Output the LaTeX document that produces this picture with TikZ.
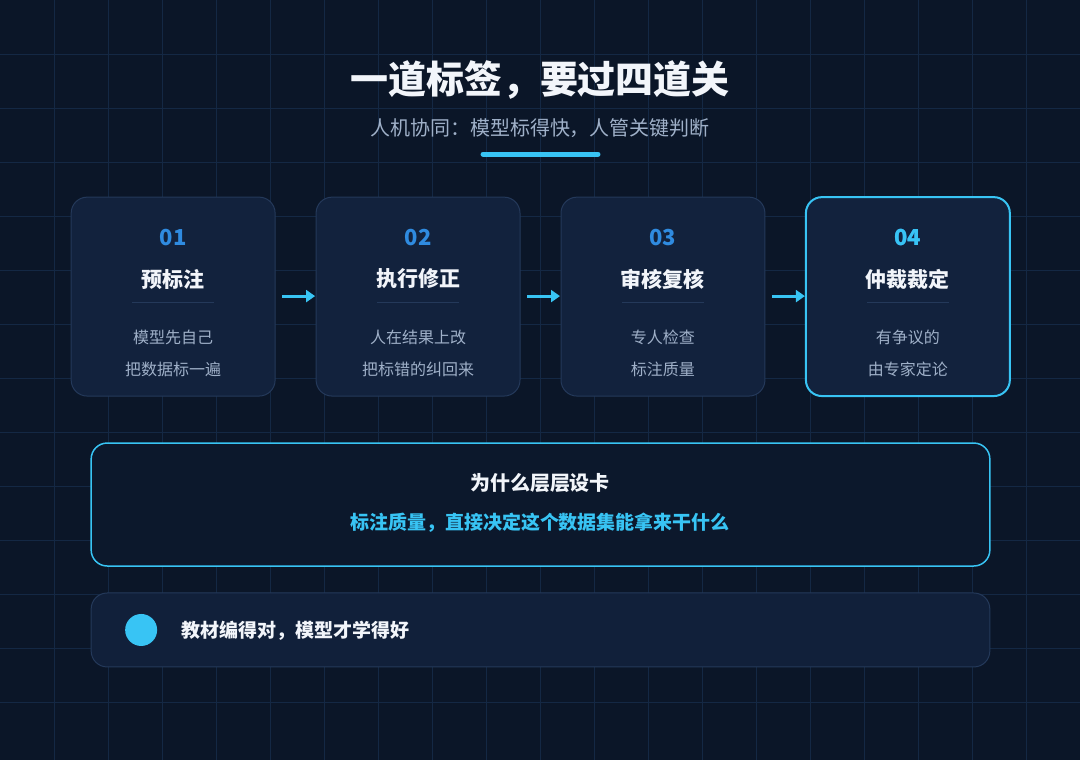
\documentclass[tikz,border=0pt]{standalone}
\usepackage{fontspec}
\setmainfont{Noto Sans CJK SC}
\usetikzlibrary{arrows.meta}
\definecolor{bg}{HTML}{0B1628}
\definecolor{gridc}{HTML}{142844}
\definecolor{cardf}{HTML}{12223D}
\definecolor{cardb}{HTML}{24395A}
\definecolor{cyan}{HTML}{38C4F4}
\definecolor{numc}{HTML}{2F8BE0}
\definecolor{subc}{HTML}{9FB0C8}
\definecolor{txtc}{HTML}{F2F5FA}
\begin{document}
\begin{tikzpicture}[x=1pt,y=-1pt]
\tikzset{
	card/.style={draw=cardb, fill=cardf, rounded corners=16pt, line width=1pt},
	num/.style={font=\fontsize{22}{24}\selectfont\bfseries, text=numc},
	ttl/.style={font=\fontsize{21}{24}\selectfont\bfseries, text=txtc},
	desc/.style={font=\fontsize{16}{18}\selectfont, text=subc},
	flow/.style={-{Triangle[length=9pt,width=12pt]}, draw=cyan, line width=3pt}
}

% background and grid
\fill[bg] (0,0) rectangle (1080,760);
\foreach \i in {54,108,...,1070} \draw[gridc] (\i,0) -- (\i,760);
\foreach \j in {54,108,...,750} \draw[gridc] (0,\j) -- (1080,\j);

% title
\node[font=\fontsize{38}{42}\selectfont\bfseries, text=txtc] (title) at (540,80) {一道标签，要过四道关};
\node[font=\fontsize{20}{24}\selectfont, text=subc] (sub) at (540,128) {人机协同：模型标得快，人管关键判断};
\draw[cyan, line width=5pt, line cap=round] (483,154) -- (598,154);

% cards
\foreach \x/\n/\t/\a/\b [count=\k] in {
	71/01/预标注/模型先自己/把数据标一遍,
	316/02/执行修正/人在结果上改/把标错的纠回来,
	561/03/审核复核/专人检查/标注质量,
	806/04/仲裁裁定/有争议的/由专家定论}{
	\draw[card] (\x,197) rectangle ++(204,199);
	\node[num] (n\k) at (\x+102,237) {\n};
	\node[ttl] (t\k) at (\x+102,279) {\t};
	\draw[cardb] (\x+61,302) -- (\x+143,302);
	\node[desc] (a\k) at (\x+102,337) {\a};
	\node[desc] (b\k) at (\x+102,369) {\b};
	\coordinate (l\k) at (\x,296);
	\coordinate (r\k) at (\x+204,296);
}
\draw[cyan, line width=2pt, rounded corners=16pt] (806,197) rectangle (1010,396);
\node[num, text=cyan] at (908,237) {04};

% arrows
\foreach \i/\j in {1/2,2/3,3/4}
	\draw[flow] ([xshift=7pt]r\i) -- ([xshift=-1pt]l\j);

% why box
\draw[draw=cyan, fill=bg!80!cardf, line width=1.5pt, rounded corners=16pt] (91,443) rectangle (990,566);
\node[ttl, font=\fontsize{20}{24}\selectfont\bfseries] (why) at (540,483) {为什么层层设卡};
\node[font=\fontsize{19}{22}\selectfont\bfseries, text=cyan] (why2) at (540,523) {标注质量，直接决定这个数据集能拿来干什么};

% note box
\draw[card, fill=cardf!85!bg] (91,593) rectangle (990,667);
\fill[cyan] (141,630) circle (16);
\node[anchor=west, font=\fontsize{19}{22}\selectfont\bfseries, text=txtc] (note) at (178,631) {教材编得对，模型才学得好};
\end{tikzpicture}
\end{document}
